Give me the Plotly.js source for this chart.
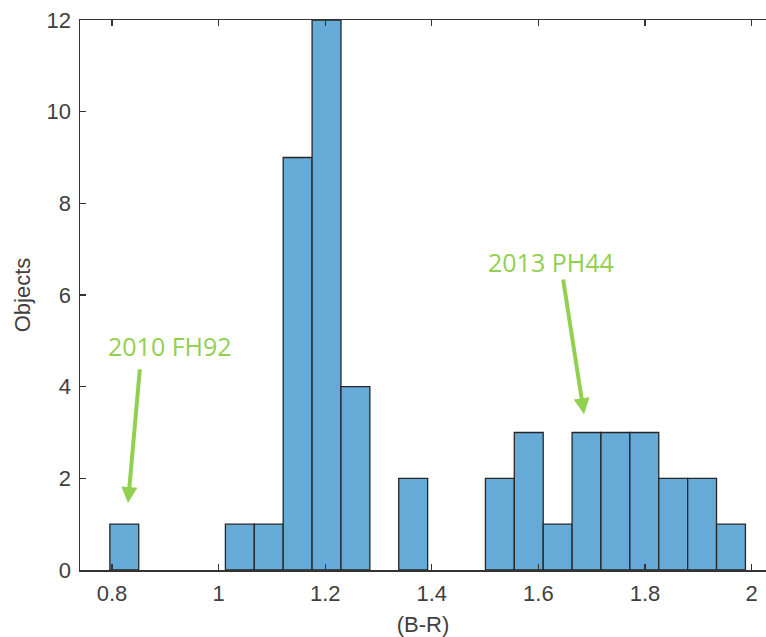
<!DOCTYPE html>
<html>
<head>
<meta charset="utf-8">
<script src="https://cdn.plot.ly/plotly-3.0.1.min.js"></script>
<style>html,body{margin:0;padding:0;background:#fff;}</style>
</head>
<body>
<div id="chart" style="width:766px;height:637px;"></div>
<script>
// Histogram of (B-R) colours: bin layout and counts
const binStart = 0.796;
const binWidth = 0.0542;
const counts = [1, 0, 0, 0, 1, 1, 9, 12, 4, 0, 2, 0, 0, 2, 3, 1, 3, 3, 3, 2, 2, 1];
const xTickVals = [0.8, 1.0, 1.2, 1.4, 1.6, 1.8, 2.0];
const xTickText = ['0.8', '1', '1.2', '1.4', '1.6', '1.8', '2'];
const yTickVals = [0, 2, 4, 6, 8, 10, 12];
const labels = ['2010 FH92', '2013 PH44'];
const labelPos = [[0.909, 4.89], [1.623, 6.72]];
const arrowTips = [[0.830, 1.46], [1.6856, 3.40]];
const arrowTails = [[0.8525, 4.41], [1.646, 6.37]];

const centers = counts.map((c, i) => binStart + binWidth * (i + 0.5));

const trace = {
  type: 'bar',
  x: centers,
  y: counts.map(c => (c === 0 ? null : c)),
  width: counts.map(() => binWidth),
  marker: {color: '#66aad7', line: {color: '#262626', width: 1.3}},
  hoverinfo: 'x+y'
};

const green = '#92d050';
const annotations = [];
labels.forEach((t, i) => {
  annotations.push({
    x: labelPos[i][0], y: labelPos[i][1], xref: 'x', yref: 'y',
    text: t, showarrow: false,
    font: {family: '"Open Sans", sans-serif', size: 25, color: green}
  });
  annotations.push({
    x: arrowTips[i][0], y: arrowTips[i][1], xref: 'x', yref: 'y',
    ax: arrowTails[i][0], ay: arrowTails[i][1], axref: 'x', ayref: 'y',
    text: '', showarrow: true, arrowhead: 2, arrowsize: 0.8, arrowwidth: 4,
    arrowcolor: green, standoff: 0
  });
});

const baseFont = '"Liberation Sans", Arial, Helvetica, sans-serif';
const layout = {
  width: 766, height: 637,
  margin: {l: 80, r: 0, t: 20, b: 67},
  paper_bgcolor: '#ffffff', plot_bgcolor: '#ffffff',
  showlegend: false,
  bargap: 0,
  font: {family: baseFont, color: '#404040'},
  xaxis: {
    range: [0.74, 2.027],
    tickvals: xTickVals, ticktext: xTickText,
    ticks: 'inside', ticklen: 6, tickwidth: 1.3, tickcolor: '#333333',
    showline: true, linecolor: '#333333', linewidth: 1.5, mirror: 'ticks',
    showgrid: false, zeroline: false, ticklabelstandoff: 3,
    tickfont: {family: baseFont, size: 22, color: '#404040'},
    title: {text: '(B-R)', font: {family: baseFont, size: 22, color: '#404040'}, standoff: 11}
  },
  yaxis: {
    range: [0, 12],
    tickvals: yTickVals,
    ticks: 'inside', ticklen: 6, tickwidth: 1.3, tickcolor: '#333333',
    showline: true, linecolor: '#333333', linewidth: 1.5,
    showgrid: false, zeroline: false, ticklabelstandoff: 3,
    tickfont: {family: baseFont, size: 22, color: '#404040'},
    title: {text: 'Objects', font: {family: baseFont, size: 22, color: '#404040'}, standoff: 10}
  },
  annotations: annotations
};

Plotly.newPlot('chart', [trace], layout, {displayModeBar: false, staticPlot: true});
</script>
</body>
</html>
